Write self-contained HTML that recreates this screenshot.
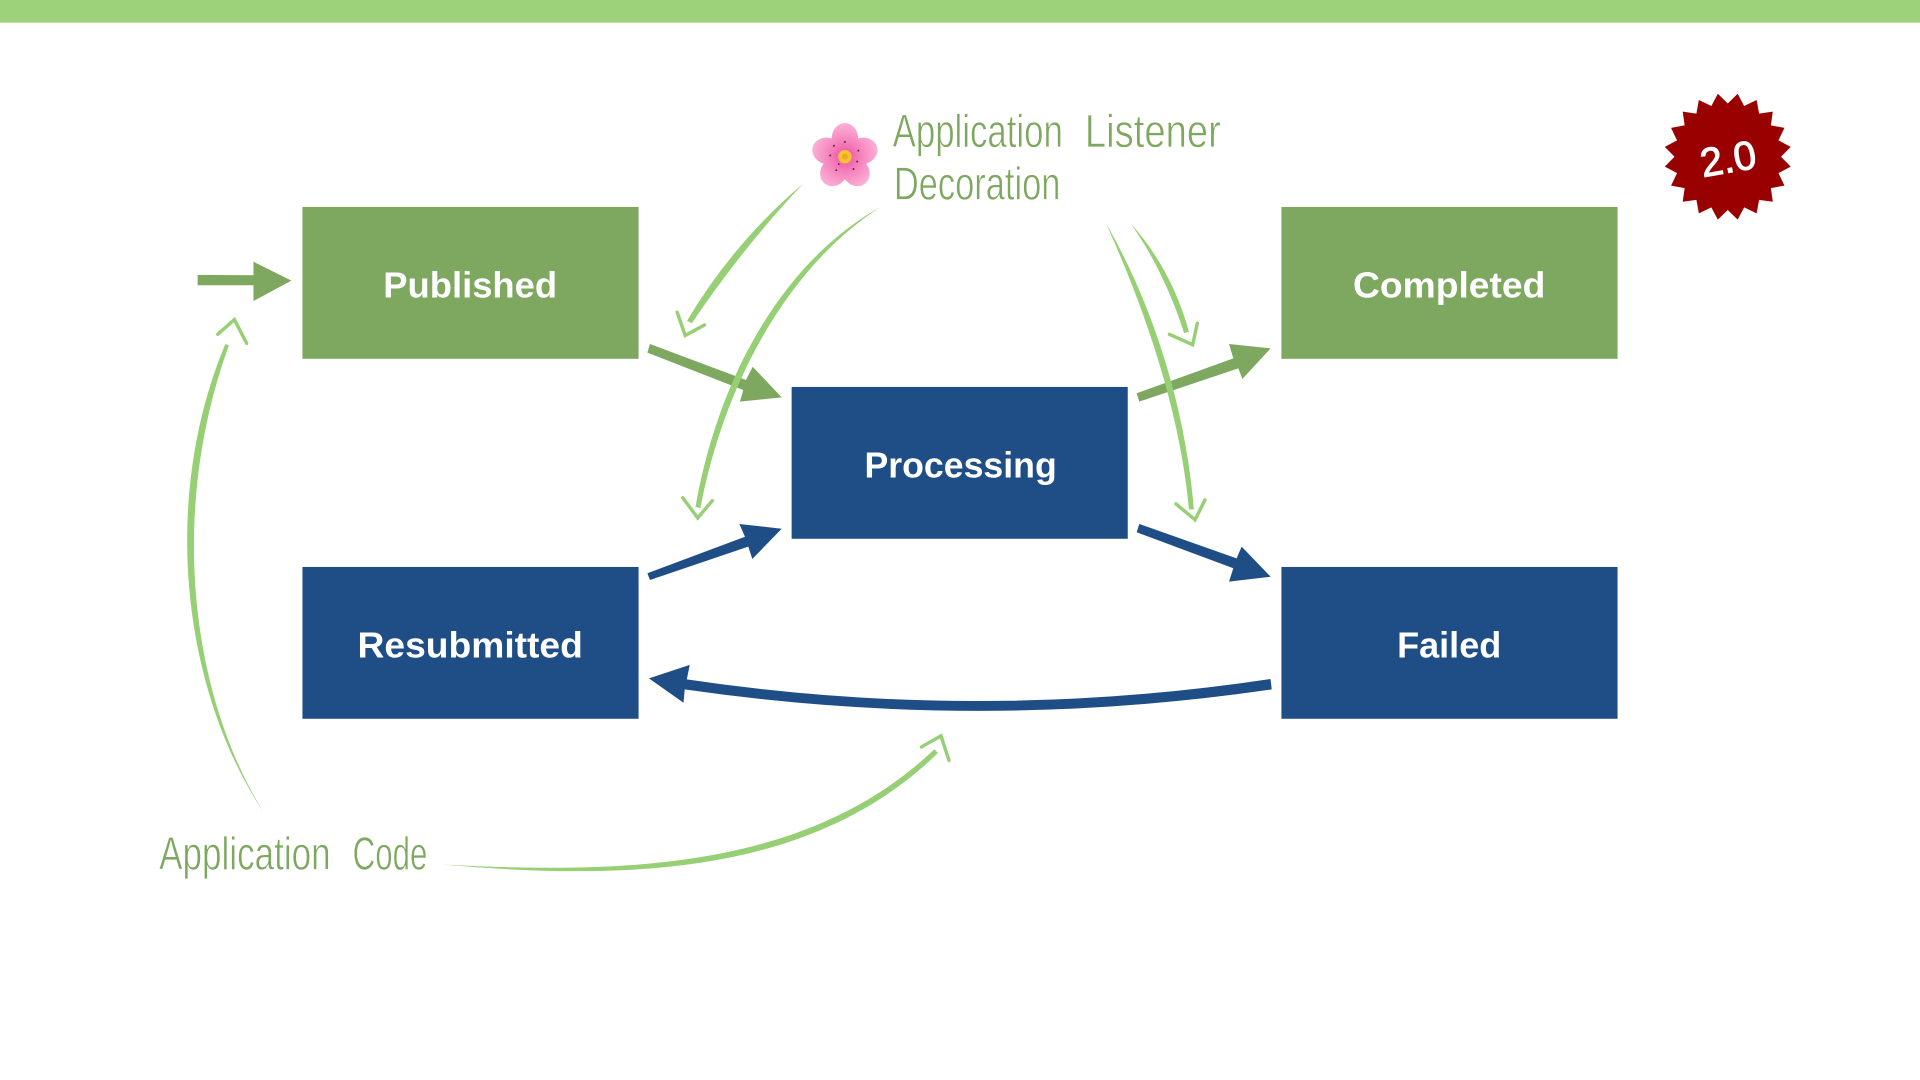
<!DOCTYPE html>
<html><head><meta charset="utf-8"><title>Message States</title>
<style>html,body{margin:0;padding:0;background:#fff;width:1920px;height:1080px;overflow:hidden}svg{display:block}
.b{font-family:"Liberation Sans",sans-serif;font-weight:700;font-size:29.5px;fill:#fff;text-anchor:start}
.h{font-family:"Liberation Sans",sans-serif;font-size:38px;fill:#7ea75f;stroke:#fff;stroke-width:.55px}
.s{fill:#97cf74}.l{fill:none;stroke:#97cf74;stroke-width:2.8;stroke-linecap:round;stroke-linejoin:miter}</style></head>
<body>
<svg width="1920" height="1080" viewBox="0 0 1568 882" xmlns="http://www.w3.org/2000/svg">
<defs>
<radialGradient id="pet" gradientUnits="userSpaceOnUse" cx="0" cy="0" r="27">
<stop offset="0" stop-color="#ea4f9c"/><stop offset=".45" stop-color="#f57fbb"/><stop offset="1" stop-color="#fbb0d6"/>
</radialGradient>
</defs>
<rect width="1568" height="882" fill="#fff"/>
<rect width="1568" height="18.5" fill="#9dd27a"/>
<rect x="247" y="169" width="274.5" height="124" fill="#7ea75f"/>
<rect x="1046.5" y="169" width="274.5" height="124" fill="#7ea75f"/>
<rect x="646.5" y="316" width="274.5" height="124" fill="#1f4e86"/>
<rect x="247" y="463" width="274.5" height="124" fill="#1f4e86"/>
<rect x="1046.5" y="463" width="274.5" height="124" fill="#1f4e86"/>
<text class="b" x="313" y="243" textLength="142" lengthAdjust="spacingAndGlyphs">Published</text>
<text class="b" x="1105" y="243" textLength="157" lengthAdjust="spacingAndGlyphs">Completed</text>
<text class="b" x="706" y="390" textLength="157" lengthAdjust="spacingAndGlyphs">Processing</text>
<text class="b" x="292" y="537" textLength="184" lengthAdjust="spacingAndGlyphs">Resubmitted</text>
<text class="b" x="1141" y="537" textLength="85" lengthAdjust="spacingAndGlyphs">Failed</text>
<g fill="#7ea75f">
<polygon points="161.400,224.500 207,224.800 207,213.700 238,229.200 207,245.800 207,233 161.400,233"/>
<polygon points="530.800,280.900 609.200,310.300 614.700,299.500 638.400,324.500 604.300,328 607,318.500 528.700,288"/>
<polygon points="928.300,321.200 1007.200,292.700 1003.700,280.900 1037.700,284.500 1014.600,309.500 1011.300,300.800 930.400,328"/>
</g>
<g fill="#1f4e86">
<polygon points="528.700,468.200 608.400,438.300 603.800,427.900 638.400,431.800 614.400,456.500 611.100,446.400 530.800,473.700"/>
<polygon points="930.400,427.900 1009.900,456 1014,446.400 1037.700,471 1003.700,475 1007.200,464.100 928.300,434.700"/>
<path d="M1037.600,554.500 Q799,590.400 560.900,554.800 L563.300,543 L530,554 L558.200,573.900 L559.200,563 Q799,598 1038.600,563 Z"/>
</g>
<!-- sketch arrows -->
<path class="s" d="M656,150 Q600,197 561,262 L565,264 Q606,203 656,150 Z"/>
<polyline class="l" points="553,255 559.600,274 575.300,265.400"/>
<path class="s" d="M719,169 C645,210 588,300 568,414 L572,415 C594,300 652,212 719,169 Z"/>
<polyline class="l" points="557.500,406.400 569.800,423 581.700,408.900"/>
<path class="s" d="M903,182 C932,246 963,330 971,416 L975,416 C968,330 940,246 903,182 Z"/>
<polyline class="l" points="960.400,411.600 976,424.500 984,408.300"/>
<path class="s" d="M923.400,182.400 Q951,222 967,272 L971,271 Q957,220 923.400,182.400 Z"/>
<polyline class="l" points="955,273 974,281.500 977.800,264"/>
<path class="s" d="M215,663 C147,560 132,405 184,281 L187,282 C140,410 152,560 215,663 Z"/>
<polyline class="l" points="177.800,273 191.400,261 201.400,280.400"/>
<path class="s" d="M361,706 C510,714 660,710 763,612 L766,615 C662,716 510,719 361,706 Z"/>
<polyline class="l" points="752.500,610 768.500,601 775,621"/>
<!-- handwritten labels -->
<text class="h" x="729" y="120" textLength="139" lengthAdjust="spacingAndGlyphs">Application</text>
<text class="h" x="886" y="120" textLength="111" lengthAdjust="spacingAndGlyphs">Listener</text>
<text class="h" x="730" y="163" textLength="136" lengthAdjust="spacingAndGlyphs">Decoration</text>
<text class="h" x="130" y="710" textLength="140" lengthAdjust="spacingAndGlyphs">Application</text>
<text class="h" x="288" y="710" textLength="61" lengthAdjust="spacingAndGlyphs">Code</text>
<!-- flower -->
<g transform="translate(690,128)">
<g fill="url(#pet)">
<ellipse cx="0" cy="-15" rx="10.800" ry="12.500"/>
<g transform="rotate(72)"><ellipse cx="0" cy="-15" rx="10.800" ry="12.500"/></g>
<g transform="rotate(144)"><ellipse cx="0" cy="-15" rx="10.800" ry="12.500"/></g>
<g transform="rotate(216)"><ellipse cx="0" cy="-15" rx="10.800" ry="12.500"/></g>
<g transform="rotate(288)"><ellipse cx="0" cy="-15" rx="10.800" ry="12.500"/></g>
</g>
<g fill="#5a2a3a">
<circle cx="0" cy="-12" r=".8"/><circle cx="11" cy="-5" r=".8"/><circle cx="7" cy="10" r=".8"/><circle cx="-7" cy="11" r=".8"/><circle cx="-12" cy="-1" r=".8"/><circle cx="-9" cy="-9" r=".8"/><circle cx="10" cy="4" r=".8"/><circle cx="-5" cy="6" r=".7"/>
</g>
<circle r="5.500" fill="#f5c332"/>
<circle r="2.500" fill="#f0a824"/>
</g>
<!-- badge -->
<g transform="translate(1411,128)">
<polygon fill="#990000" points="0,-43.5 8.1,-51.4 13.4,-41.4 23.6,-46.3 25.6,-35.2 36.8,-36.8 35.2,-25.6 46.3,-23.6 41.4,-13.4 51.4,-8.1 43.5,0 51.4,8.1 41.4,13.4 46.3,23.6 35.2,25.6 36.8,36.8 25.6,35.2 23.6,46.3 13.4,41.4 8.1,51.4 0,43.5 -8.1,51.4 -13.4,41.4 -23.6,46.3 -25.6,35.2 -36.8,36.8 -35.2,25.6 -46.3,23.6 -41.4,13.4 -51.4,8.1 -43.5,0 -51.4,-8.1 -41.4,-13.4 -46.3,-23.6 -35.2,-25.6 -36.8,-36.8 -25.6,-35.2 -23.6,-46.3 -13.4,-41.4 -8.1,-51.4"/>
<text transform="rotate(-10)" x="0" y="13" text-anchor="middle" font-family="Liberation Sans, sans-serif" font-size="33" fill="#fff" stroke="#fff" stroke-width=".8">2.0</text>
</g>
</svg>
</body></html>
